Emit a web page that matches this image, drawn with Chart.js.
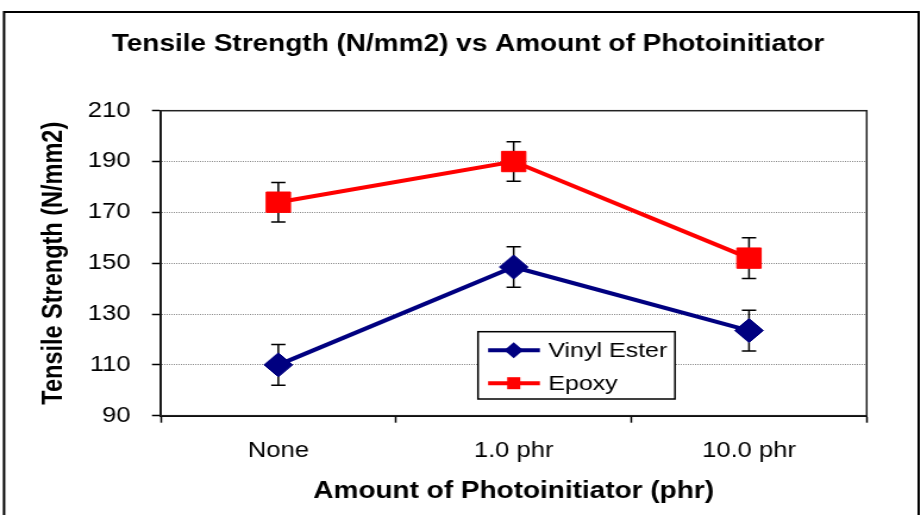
<!DOCTYPE html>
<html>
<head>
<meta charset="utf-8">
<script src="https://cdn.jsdelivr.net/npm/chart.js@4.4.1/dist/chart.umd.min.js"></script>
<style>
  html, body { margin: 0; padding: 0; background: #fff; overflow: hidden; }
  /* the source picture is stretched sideways, so the chart is drawn narrower and widened */
  #wrap { width: 775px; height: 515px; transform: scaleX(1.19); transform-origin: 0 0; }
</style>
</head>
<body>
<div id="wrap"><canvas id="tensileChart"></canvas></div>
<script>
const categories = ['None', '1.0 phr', '10.0 phr'];
const vinylEster = [110, 148.5, 123.5];
const vinylErr = [8, 8, 8];
const epoxy = [174, 190, 152];
const epoxyErr = [7.8, 7.8, 8];
const yTicks = [90, 110, 130, 150, 170, 190, 210];
const chartTitle = 'Tensile Strength (N/mm2) vs Amount of Photoinitiator';

const FONT = '"Liberation Sans", Arial, sans-serif';

// outer frame, title, and box round the plot area
const framePlugin = {
    id: 'frame',
    beforeDraw(chart) {
        const ctx = chart.ctx;
        ctx.save();
        ctx.fillStyle = '#fff';
        ctx.fillRect(0, 0, chart.width, chart.height);
        ctx.strokeStyle = '#000';
        ctx.lineWidth = 2;
        ctx.beginPath();
        ctx.moveTo(3.4, chart.height + 5);
        ctx.lineTo(3.4, 12);
        ctx.lineTo(772, 12);
        ctx.lineTo(772, chart.height + 5);
        ctx.stroke();
        // title is centred a bit right of the canvas middle, as in the source
        ctx.fillStyle = '#000';
        ctx.font = 'bold 23.5px ' + FONT;
        ctx.textAlign = 'center';
        ctx.textBaseline = 'middle';
        ctx.fillText(chartTitle, 393.3, 45);
        ctx.restore();
    },
    beforeDatasetsDraw(chart) {
        const a = chart.chartArea;
        const ctx = chart.ctx;
        ctx.save();
        ctx.strokeStyle = '#222';
        ctx.lineWidth = 1.5;
        ctx.strokeRect(a.left, a.top, a.right - a.left, a.bottom - a.top);
        ctx.restore();
    }
};

// vertical error bars, drawn under the markers
const errorBarPlugin = {
    id: 'errorBars',
    beforeDatasetsDraw(chart) {
        const ctx = chart.ctx;
        const y = chart.scales.y;
        ctx.save();
        ctx.strokeStyle = '#000';
        ctx.lineWidth = 1.5;
        chart.data.datasets.forEach((ds, i) => {
            const meta = chart.getDatasetMeta(i);
            meta.data.forEach((pt, j) => {
                const err = ds.errors[j];
                const top = y.getPixelForValue(ds.data[j] + err);
                const bot = y.getPixelForValue(ds.data[j] - err);
                ctx.beginPath();
                ctx.moveTo(pt.x, top); ctx.lineTo(pt.x, bot);
                ctx.moveTo(pt.x - 6, top); ctx.lineTo(pt.x + 6, top);
                ctx.moveTo(pt.x - 6, bot); ctx.lineTo(pt.x + 6, bot);
                ctx.stroke();
            });
        });
        ctx.restore();
    }
};

// boxed legend sitting inside the plot
const boxLegendPlugin = {
    id: 'boxLegend',
    afterDatasetsDraw(chart) {
        const ctx = chart.ctx;
        const x0 = 401.7, y0 = 331.7, w = 165.5, h = 67.3;
        ctx.save();
        ctx.fillStyle = '#fff';
        ctx.fillRect(x0, y0, w, h);
        ctx.strokeStyle = '#000';
        ctx.lineWidth = 1.5;
        ctx.strokeRect(x0, y0, w, h);
        ctx.font = '21px ' + FONT;
        ctx.textBaseline = 'middle';
        chart.data.datasets.forEach((ds, i) => {
            const cy = y0 + 18.5 + i * 33;
            ctx.strokeStyle = ds.borderColor;
            ctx.lineWidth = 4;
            ctx.beginPath();
            ctx.moveTo(x0 + 8.5, cy);
            ctx.lineTo(x0 + 52, cy);
            ctx.stroke();
            const cx = x0 + 30;
            ctx.fillStyle = ds.backgroundColor;
            ctx.beginPath();
            if (ds.pointStyle === 'rectRot') {
                ctx.moveTo(cx - 8, cy); ctx.lineTo(cx, cy - 8);
                ctx.lineTo(cx + 8, cy); ctx.lineTo(cx, cy + 8);
                ctx.closePath();
            } else {
                ctx.rect(cx - 5.5, cy - 6, 11, 12);
            }
            ctx.fill();
            ctx.fillStyle = '#000';
            ctx.fillText(ds.label, x0 + 59, cy + 1);
        });
        ctx.restore();
    }
};

new Chart(document.getElementById('tensileChart'), {
    type: 'line',
    data: {
        labels: categories,
        datasets: [
            {
                label: 'Vinyl Ester',
                data: vinylEster,
                errors: vinylErr,
                borderColor: '#000080',
                backgroundColor: '#000080',
                borderWidth: 4,
                pointStyle: 'rectRot',
                pointRadius: 12,
                pointBorderWidth: 1,
                pointHoverRadius: 12
            },
            {
                label: 'Epoxy',
                data: epoxy,
                errors: epoxyErr,
                borderColor: '#ff0000',
                backgroundColor: '#ff0000',
                borderWidth: 4,
                pointStyle: 'rect',
                pointRadius: 14.4,
                pointBorderWidth: 1,
                pointHoverRadius: 14.4
            }
        ]
    },
    options: {
        responsive: true,
        maintainAspectRatio: false,
        animation: false,
        layout: { padding: { left: 0, right: 46.7, top: 110.7, bottom: 0 } },
        scales: {
            x: {
                offset: true,
                grid: { offset: true, drawOnChartArea: false, tickLength: 7, tickColor: '#000', tickWidth: 1.5 },
                border: { color: '#000', width: 2 },
                ticks: { color: '#000', font: { family: FONT, size: 21.5 }, padding: 15, maxRotation: 0 },
                title: {
                    display: true,
                    text: 'Amount of Photoinitiator (phr)',
                    color: '#000',
                    font: { family: FONT, size: 23.5, weight: 'bold' },
                    padding: { top: 0, bottom: 9 }
                },
                afterFit(scale) { scale.height = 99.3; }
            },
            y: {
                min: 90,
                max: 210,
                afterBuildTicks(scale) { scale.ticks = yTicks.map(v => ({ value: v })); },
                grid: { color: '#8a8a8a', lineWidth: 1, tickLength: 7.3, tickColor: '#000', tickWidth: 1.5 },
                border: { color: '#000', width: 2, dash: [1, 1] },
                ticks: { color: '#000', font: { family: FONT, size: 21.5 }, padding: 18 },
                title: {
                    display: true,
                    text: 'Tensile Strength (N/mm2)',
                    color: '#000',
                    font: { family: FONT, size: 23.5, weight: 'bold' },
                    padding: { top: 31.3, bottom: 0 }
                },
                afterFit(scale) { scale.width = 135; }
            }
        },
        plugins: {
            legend: { display: false },
            tooltip: { enabled: false },
            title: { display: false }
        }
    },
    plugins: [framePlugin, errorBarPlugin, boxLegendPlugin]
});
</script>
</body>
</html>
